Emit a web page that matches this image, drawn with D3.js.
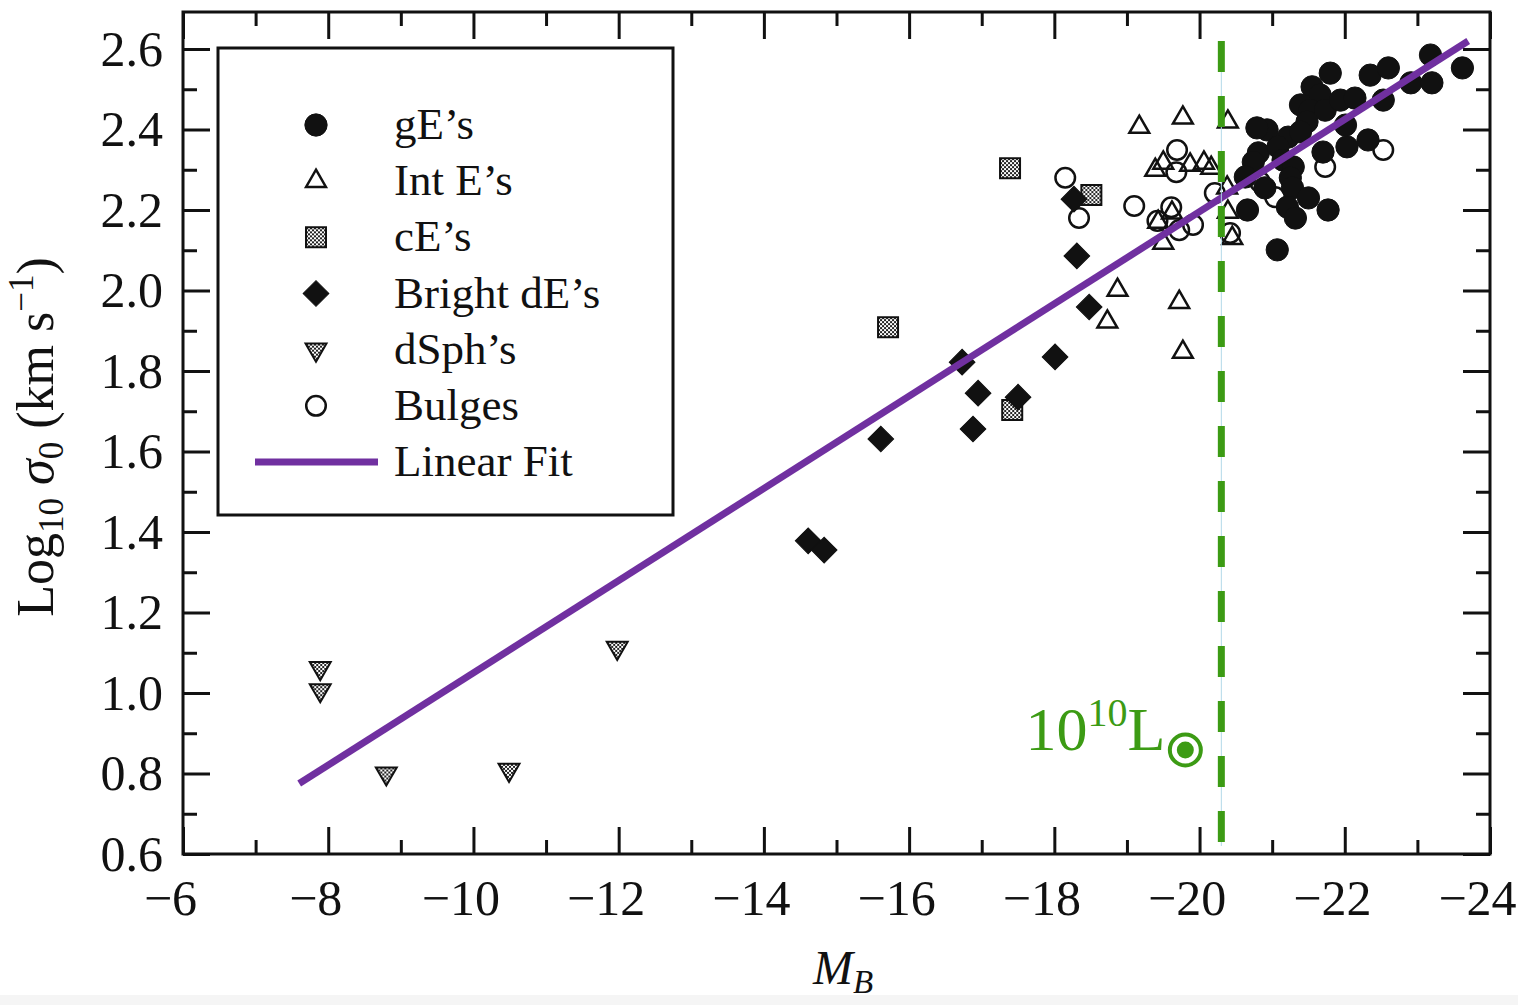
<!doctype html>
<html>
<head>
<meta charset="utf-8">
<title>Faber-Jackson: Log sigma0 vs M_B</title>
<script src="https://d3js.org/d3.v7.min.js"></script>
<style>
  body { margin:0; background:#fff; }
  svg { display:block; font-family:"Liberation Serif","Times New Roman",serif; }
</style>
</head>
<body>
<svg id="chart" width="1518" height="1005"></svg>
<script>
// ---- data, [M_B, log10 sigma0] ----
var gEs = [[-21.80,2.540],[-22.35,2.535],[-22.60,2.553],[-23.18,2.585],[-23.62,2.553],
  [-22.91,2.516],[-23.20,2.516],[-22.53,2.473],[-21.55,2.506],[-21.66,2.486],
  [-21.39,2.461],[-21.52,2.448],[-21.73,2.448],[-21.94,2.473],[-22.14,2.478],
  [-21.48,2.419],[-20.93,2.399],[-20.79,2.404],[-21.22,2.381],[-21.39,2.394],
  [-20.81,2.342],[-20.74,2.319],[-21.08,2.357],[-21.15,2.324],[-21.29,2.307],
  [-21.25,2.280],[-21.28,2.255],[-20.63,2.282],[-20.90,2.255],[-21.70,2.344],
  [-22.03,2.357],[-22.32,2.374],[-21.50,2.230],[-20.66,2.200],[-21.21,2.207],
  [-21.32,2.180],[-21.77,2.200],[-21.07,2.101],[-22.01,2.411]];
var intEs = [[-19.17,2.406],[-19.77,2.429],[-20.39,2.419],[-19.39,2.299],[-19.50,2.317],
  [-19.87,2.312],[-20.06,2.317],[-20.16,2.304],[-20.38,2.255],[-19.43,2.170],
  [-19.62,2.193],[-19.50,2.118],[-20.39,2.195],[-20.45,2.130],[-18.87,2.001],
  [-18.73,1.922],[-19.72,1.971],[-19.77,1.847]];
var cEs = [[-17.39,2.304],[-15.71,1.909],[-17.42,1.703],[-18.51,2.237]];
var brightDEs = [[-16.73,1.822],[-16.95,1.745],[-16.88,1.656],[-17.50,1.735],[-18.01,1.835],
  [-15.61,1.631],[-18.48,1.959],[-18.31,2.086],[-18.27,2.227],[-14.61,1.378],[-14.83,1.355]];
var dSphs = [[-7.89,1.062],[-7.89,1.007],[-8.80,0.800],[-10.49,0.809],[-11.98,1.112]];
var bulges = [[-18.15,2.280],[-18.34,2.180],[-19.10,2.210],[-19.42,2.173],[-19.61,2.207],
  [-19.69,2.349],[-19.68,2.294],[-19.72,2.150],[-19.91,2.163],[-20.21,2.242],
  [-20.42,2.143],[-20.83,2.270],[-21.04,2.232],[-21.73,2.307],[-22.53,2.349]];
var fitLine = [[-7.6,0.775],[-23.7,2.62]];
var lumMark = -20.3;   // M_B of 10^10 L_sun marker

var xMajor = [-6,-8,-10,-12,-14,-16,-18,-20,-22,-24];
var xMinor = d3.range(-7,-24,-2);
var yMajor = [0.6,0.8,1.0,1.2,1.4,1.6,1.8,2.0,2.2,2.4,2.6];
var yMinor = [0.7,0.9,1.1,1.3,1.5,1.7,1.9,2.1,2.3,2.5];
var legendNames = ["gE\u2019s","Int E\u2019s","cE\u2019s","Bright dE\u2019s","dSph\u2019s","Bulges","Linear Fit"];

var svg = d3.select("#chart");
var pLeft = 183, pRight = 1490, pTop = 12, pBottom = 854;

var x = d3.scaleLinear().domain([-6,-24]).range([pLeft,pRight]);
var y = d3.scaleLinear().domain([0.6,2.6]).range([pBottom,49]);

var purple = "#7030a0", green = "#3c9b14";

// light strip at the bottom of the scan
svg.append("rect").attr("x",0).attr("y",995).attr("width",1518).attr("height",10).attr("fill","#f5f5f5");

// stipple pattern for grey symbols
var defs = svg.append("defs");
var pat = defs.append("pattern").attr("id","stip").attr("width",4).attr("height",4)
  .attr("patternUnits","userSpaceOnUse");
pat.append("rect").attr("width",4).attr("height",4).attr("fill","#fff");
pat.append("rect").attr("width",2).attr("height",2).attr("fill","#222");
pat.append("rect").attr("x",2).attr("y",2).attr("width",2).attr("height",2).attr("fill","#222");

// ---- axes (ticks inward on all four sides) ----
function styleAxis(g) {
  g.select(".domain").remove();
  g.selectAll(".tick line").attr("stroke","#111").attr("stroke-width",3);
  g.selectAll(".tick text").attr("fill","#111").style("font-size","50px")
    .style("font-family","'Liberation Serif',serif");
}
var fmtX = d3.format("d"), fmtY = d3.format(".1f");

var gxb = svg.append("g").attr("transform","translate(0,"+pBottom+")")
  .call(d3.axisBottom(x).tickValues(xMajor).tickSize(-27).tickPadding(25).tickFormat(fmtX)).call(styleAxis);
// digits sit over the tick, the minus sign hangs to the left
gxb.selectAll(".tick text").attr("dx", -13);
svg.append("g").attr("transform","translate(0,"+pBottom+")")
  .call(d3.axisBottom(x).tickValues(xMinor).tickSize(-14).tickFormat("")).call(styleAxis);
svg.append("g").attr("transform","translate(0,"+pTop+")")
  .call(d3.axisTop(x).tickValues(xMajor).tickSize(-27).tickFormat("")).call(styleAxis);
svg.append("g").attr("transform","translate(0,"+pTop+")")
  .call(d3.axisTop(x).tickValues(xMinor).tickSize(-14).tickFormat("")).call(styleAxis);

svg.append("g").attr("transform","translate("+pLeft+",0)")
  .call(d3.axisLeft(y).tickValues(yMajor).tickSize(-27).tickPadding(20).tickFormat(fmtY)).call(styleAxis);
svg.append("g").attr("transform","translate("+pLeft+",0)")
  .call(d3.axisLeft(y).tickValues(yMinor).tickSize(-14).tickFormat("")).call(styleAxis);
svg.append("g").attr("transform","translate("+pRight+",0)")
  .call(d3.axisRight(y).tickValues(yMajor).tickSize(-27).tickFormat("")).call(styleAxis);
svg.append("g").attr("transform","translate("+pRight+",0)")
  .call(d3.axisRight(y).tickValues(yMinor).tickSize(-14).tickFormat("")).call(styleAxis);

// frame
svg.append("rect").attr("x",pLeft).attr("y",pTop).attr("width",pRight-pLeft).attr("height",pBottom-pTop)
  .attr("fill","none").attr("stroke","#111").attr("stroke-width",3);

// axis titles
var yl = svg.append("text").attr("transform","translate(53,437) rotate(-90)")
  .attr("text-anchor","middle").style("font-size","52px").attr("fill","#111");
yl.append("tspan").text("Log");
yl.append("tspan").attr("dy",10).style("font-size","35px").text("10");
yl.append("tspan").attr("dy",-10).style("font-style","italic").text(" \u03C3");
yl.append("tspan").attr("dy",10).style("font-size","35px").text("0");
yl.append("tspan").attr("dy",-10).text(" (km s");
yl.append("tspan").attr("dy",-20).style("font-size","35px").text("\u22121");
yl.append("tspan").attr("dy",20).text(")");

var xl = svg.append("text").attr("x",843).attr("y",984).attr("text-anchor","middle")
  .style("font-size","48px").style("font-style","italic").attr("fill","#111");
xl.append("tspan").text("M");
xl.append("tspan").attr("dy",9).style("font-size","33px").text("B");

// ---- markers ----
var symbols = {
  circle: d3.symbol().type(d3.symbolCircle).size(390),
  open:   d3.symbol().type(d3.symbolCircle).size(300),
  tri:    d3.symbol().type(d3.symbolTriangle).size(170),
  sq:     d3.symbol().type(d3.symbolSquare).size(400),
  dia:    d3.symbol().type(d3.symbolSquare).size(330),
  dtri:   d3.symbol().type(d3.symbolTriangle).size(190)
};
var styles = [
  {data:cEs,       sym:"sq",     fill:"url(#stip)", sw:2,   rot:0},
  {data:dSphs,     sym:"dtri",   fill:"url(#stip)", sw:2,   rot:180},
  {data:intEs,     sym:"tri",    fill:"none",       sw:2.5, rot:0},
  {data:bulges,    sym:"open",   fill:"none",       sw:2.5, rot:0},
  {data:gEs,       sym:"circle", fill:"#111",       sw:1,   rot:0},
  {data:brightDEs, sym:"dia",    fill:"#111",       sw:1,   rot:45}
];
styles.forEach(function(s) {
  svg.append("g").selectAll("path").data(s.data).enter().append("path")
    .attr("d", symbols[s.sym])
    .attr("transform", function(d) { return "translate("+x(d[0])+","+y(d[1])+") rotate("+s.rot+")"; })
    .attr("fill", s.fill).attr("stroke","#111").attr("stroke-width", s.sw);
});

// linear fit
var line = d3.line().x(function(d){ return x(d[0]); }).y(function(d){ return y(d[1]); });
svg.append("path").datum(fitLine).attr("d", line)
  .attr("fill","none").attr("stroke",purple).attr("stroke-width",7);

// 10^10 L_sun marker
var gx = x(lumMark);
svg.append("line").attr("x1",gx).attr("x2",gx).attr("y1",41).attr("y2",846)
  .attr("stroke","#b3d9e8").attr("stroke-width",1);
svg.append("line").attr("x1",gx).attr("x2",gx).attr("y1",41).attr("y2",846)
  .attr("stroke",green).attr("stroke-width",7).attr("stroke-dasharray","31,24");

var gt = svg.append("text").attr("x",gx-56).attr("y",750).attr("text-anchor","end")
  .attr("fill",green).style("font-size","62px");
gt.append("tspan").text("10");
gt.append("tspan").attr("dy",-24).style("font-size","40px").text("10");
gt.append("tspan").attr("dy",24).text("L");
svg.append("circle").attr("cx",gx-36).attr("cy",750).attr("r",15.5)
  .attr("fill","none").attr("stroke",green).attr("stroke-width",4);
svg.append("circle").attr("cx",gx-36).attr("cy",750).attr("r",8.5).attr("fill",green);

// ---- legend ----
svg.append("rect").attr("x",218).attr("y",48).attr("width",455).attr("height",467)
  .attr("fill","#fff").attr("stroke","#111").attr("stroke-width",3);
var legY = d3.scalePoint().domain(legendNames).range([125,462]);
var legOrder = [styles[4], styles[2], styles[0], styles[5], styles[1], styles[3]];
legOrder.forEach(function(s, i) {
  svg.append("path").attr("d", symbols[s.sym])
    .attr("transform","translate(316,"+legY(legendNames[i])+") rotate("+s.rot+")")
    .attr("fill", s.fill).attr("stroke","#111").attr("stroke-width", s.sw);
});
svg.append("line").attr("x1",255).attr("x2",378)
  .attr("y1",legY("Linear Fit")).attr("y2",legY("Linear Fit"))
  .attr("stroke",purple).attr("stroke-width",7);
svg.append("g").selectAll("text").data(legendNames).enter().append("text")
  .attr("x",394).attr("y",function(d){ return legY(d)+14; })
  .style("font-size","45px").attr("fill","#111").text(function(d){ return d; });
</script>
</body>
</html>
